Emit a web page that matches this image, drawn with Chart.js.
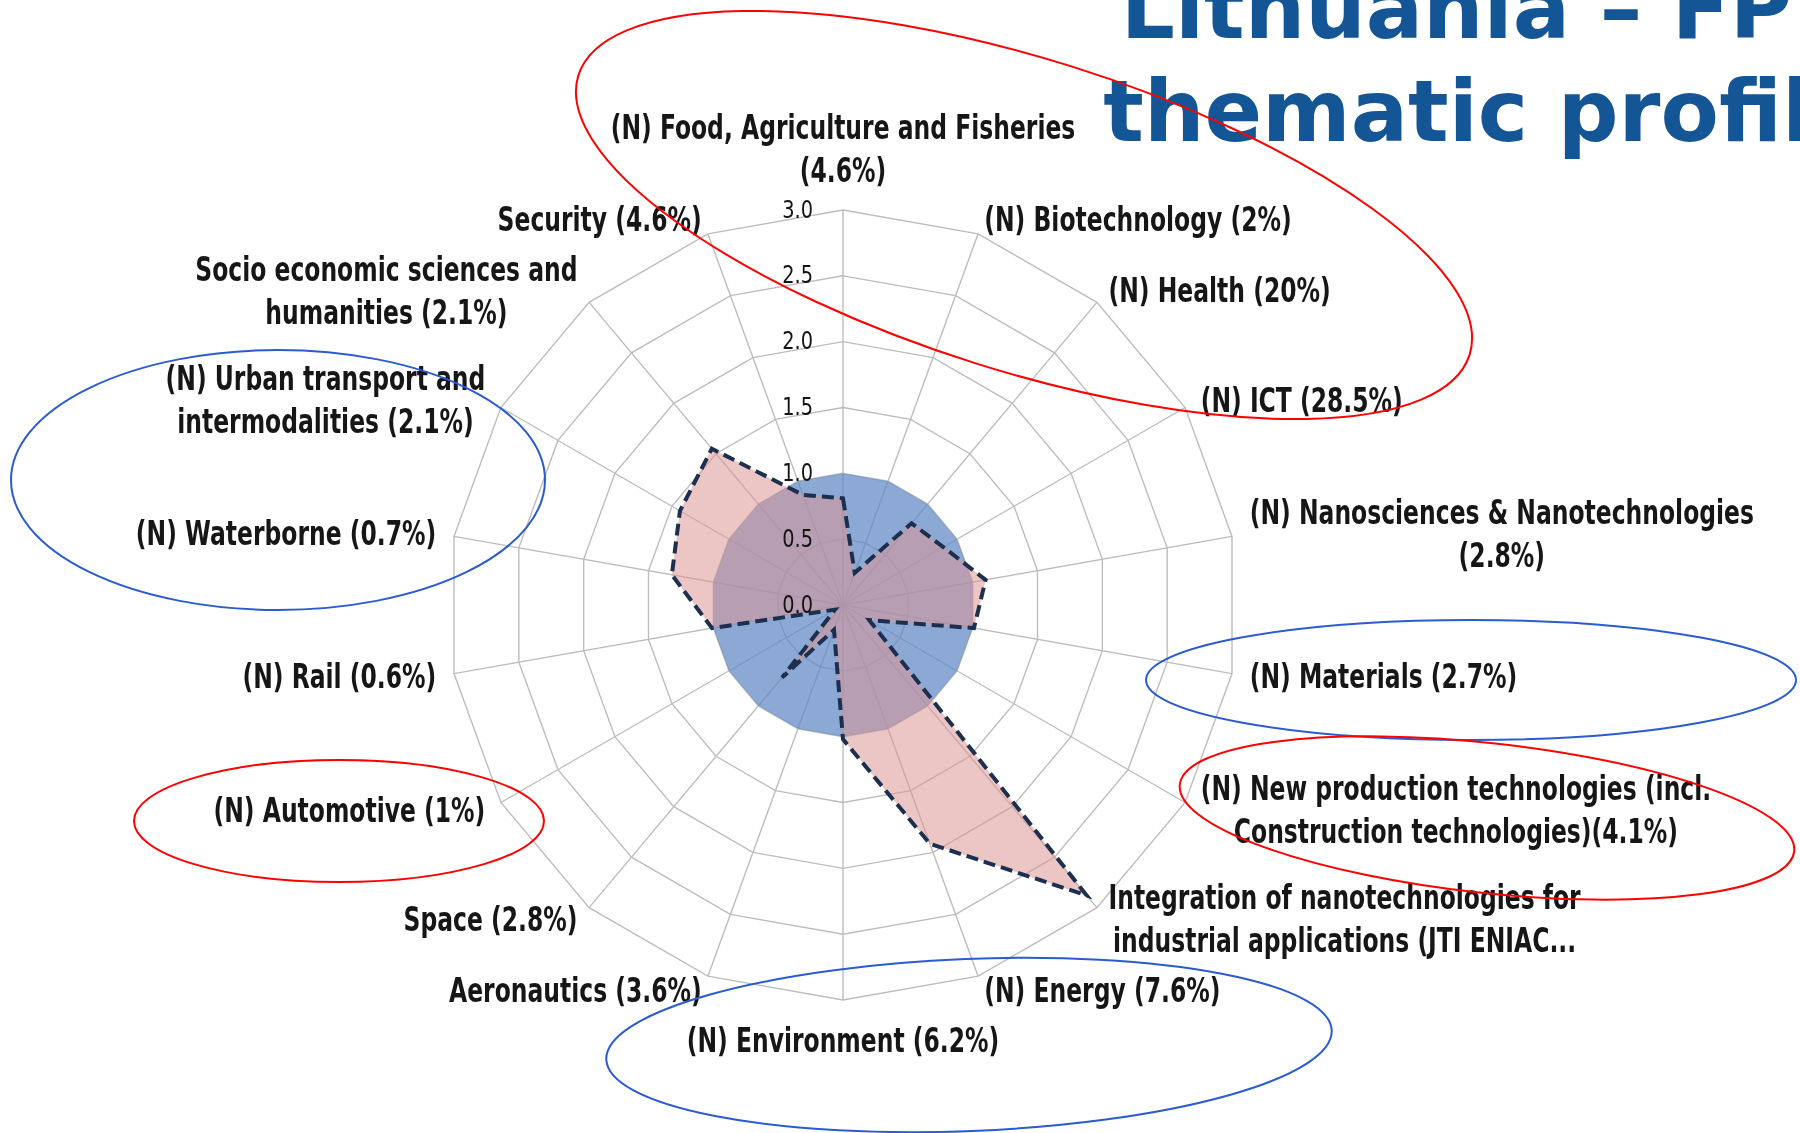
<!DOCTYPE html>
<html>
<head>
<meta charset="utf-8">
<script src="https://cdn.jsdelivr.net/npm/chart.js@4.4.1/dist/chart.umd.min.js"></script>
<style>
    html, body { margin: 0; padding: 0; background: #fff; overflow: hidden; }
    #wrap { position: relative; width: 1800px; height: 1133px; overflow: hidden; }
    #chart { position: absolute; left: 0; top: 0; }
    #title {
        position: absolute; left: 986px; top: -42px; width: 1000px;
        text-align: center; white-space: nowrap;
        font: bold 85px 'DejaVu Sans', sans-serif; line-height: 102.7px;
        color: #145596;
    }
    #marks { position: absolute; left: 0; top: 0; pointer-events: none; }
</style>
</head>
<body>
<div id="wrap">
    <canvas id="chart" width="1800" height="1133"></canvas>
    <div id="title">Lithuania – FP7<br>thematic profile</div>
    <svg id="marks" width="1800" height="1133">
        <ellipse cx="1024" cy="215" rx="467" ry="156" transform="rotate(17.4 1024 215)" fill="none" stroke="#ff0000" stroke-width="2"/>
        <ellipse cx="278" cy="480" rx="267" ry="130" fill="none" stroke="#2a5bd0" stroke-width="2"/>
        <ellipse cx="1471" cy="680" rx="325" ry="60" fill="none" stroke="#2a5bd0" stroke-width="2"/>
        <ellipse cx="339" cy="821" rx="205" ry="61" fill="none" stroke="#ff0000" stroke-width="2"/>
        <ellipse cx="1487" cy="818" rx="309" ry="75" transform="rotate(6.2 1487 818)" fill="none" stroke="#ff0000" stroke-width="2"/>
        <ellipse cx="969" cy="1045" rx="363" ry="86" transform="rotate(-2.3 969 1045)" fill="none" stroke="#2a5bd0" stroke-width="2"/>
    </svg>
</div>
<script>
// --- 데이터 ---
const categories = [
    ['(N) Food, Agriculture and Fisheries', '(4.6%)'],
    ['(N) Biotechnology (2%)'],
    ['(N) Health (20%)'],
    ['(N) ICT (28.5%)'],
    ['(N) Nanosciences & Nanotechnologies', '(2.8%)'],
    ['(N) Materials (2.7%)'],
    ['(N) New production technologies (incl.', 'Construction technologies)(4.1%)'],
    ['Integration of nanotechnologies for', 'industrial applications (JTI ENIAC...'],
    ['(N) Energy (7.6%)'],
    ['(N) Environment (6.2%)'],
    ['Aeronautics (3.6%)'],
    ['Space (2.8%)'],
    ['(N) Automotive (1%)'],
    ['(N) Rail (0.6%)'],
    ['(N) Waterborne (0.7%)'],
    ['(N) Urban transport and', 'intermodalities (2.1%)'],
    ['Socio economic sciences and', 'humanities (2.1%)'],
    ['Security (4.6%)']
];
const benchmark = [1, 1, 1, 1, 1, 1, 1, 1, 1, 1, 1, 1, 1, 1, 1, 1, 1, 1];
const profile = [0.81, 0.26, 0.81, 0.88, 1.10, 1.01, 0.23, 2.88, 1.93, 1.02, 0.20, 0.72, 0.07, 1.01, 1.32, 1.43, 1.55, 0.89];
const axisMin = 0;
const axisMax = 3;
const axisStep = 0.5;

const LABEL_FONT = "bold 33px 'DejaVu Sans Condensed', sans-serif";
const LABEL_SX = 0.79;   // 좁은 글꼴 흉내 (가로 압축)
const LABEL_LH = 42.5;
const TICK_FONT = "25px 'DejaVu Sans Condensed', sans-serif";
const TICK_SX = 0.86;

// 축 라벨, 눈금 라벨은 엑셀 배치처럼 직접 그림
const labelPlugin = {
    id: 'excelLabels',
    afterDatasetsDraw(chart) {
        const scale = chart.scales.r;
        const ctx = chart.ctx;
        const R = scale.drawingArea;
        ctx.save();

        ctx.font = TICK_FONT;
        ctx.fillStyle = '#141414';
        ctx.textAlign = 'right';
        ctx.textBaseline = 'middle';
        scale.ticks.forEach(t => {
            const y = scale.yCenter - scale.getDistanceFromCenterForValue(t.value);
            ctx.save();
            ctx.translate(scale.xCenter - 30, y + 1);
            ctx.scale(TICK_SX, 1);
            ctx.fillText(t.value.toFixed(1), 0, 0);
            ctx.restore();
        });

        ctx.font = LABEL_FONT;
        ctx.textAlign = 'center';
        ctx.fillStyle = '#161616';
        categories.forEach((lines, i) => {
            const pos = scale.getPointPosition(i, R);
            const a = pos.angle + Math.PI / 2;
            const sin = Math.sin(a), cos = Math.cos(a);
            const n = lines.length;
            const w = Math.max(...lines.map(l => ctx.measureText(l).width)) * LABEL_SX;
            let cx, cy;
            if (Math.abs(sin) < 0.01) {
                cx = pos.x;
                cy = pos.y - Math.sign(cos) * ((n - 1) * LABEL_LH / 2 + 15 + 25);
            } else {
                cx = pos.x + 18 * sin + Math.sign(sin) * w / 2;
                cy = pos.y - cos * 15;
            }
            lines.forEach((l, k) => {
                ctx.save();
                ctx.translate(cx, cy + 3 + (k - (n - 1) / 2) * LABEL_LH);
                ctx.scale(LABEL_SX, 1);
                ctx.fillText(l, 0, 0);
                ctx.restore();
            });
        });
        ctx.restore();
    }
};

new Chart(document.getElementById('chart'), {
    type: 'radar',
    data: {
        labels: categories,
        datasets: [
            {
                label: 'Lithuania',
                data: profile,
                order: 0,
                fill: true,
                backgroundColor: 'rgba(220,150,150,0.55)',
                borderColor: '#1c2f4f',
                borderWidth: 4,
                borderDash: [12, 6],
                borderJoinStyle: 'miter',
                pointRadius: 0,
                tension: 0
            },
            {
                label: 'EU',
                data: benchmark,
                order: 1,
                fill: true,
                backgroundColor: 'rgba(95,136,198,0.72)',
                borderColor: 'rgba(0,0,0,0)',
                borderWidth: 0,
                pointRadius: 0,
                tension: 0
            }
        ]
    },
    options: {
        responsive: false,
        animation: false,
        devicePixelRatio: 1,
        layout: { padding: { left: 448, right: 562, top: 210, bottom: 133 } },
        plugins: { legend: { display: false }, tooltip: { enabled: false } },
        scales: {
            r: {
                min: axisMin,
                max: axisMax,
                ticks: { stepSize: axisStep, display: false },
                pointLabels: { display: false },
                grid: { color: '#bdbdbd', lineWidth: 1.4 },
                angleLines: { color: '#bdbdbd', lineWidth: 1.4 }
            }
        }
    },
    plugins: [labelPlugin]
});
</script>
</body>
</html>
